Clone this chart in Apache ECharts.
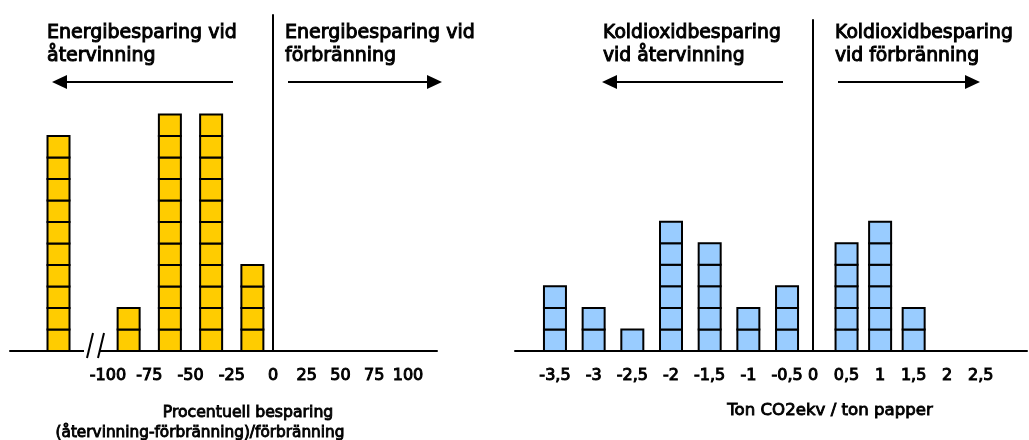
<!DOCTYPE html>
<html>
<head>
<meta charset="utf-8">
<script src="https://cdn.jsdelivr.net/npm/echarts@6/dist/echarts.min.js"></script>
<style>
html,body{margin:0;padding:0;background:#fff;}
#c{width:1029px;height:440px;}
</style>
</head>
<body>
<div id="c"></div>
<script>
// ---- data ----
const energyBins = [-130, -87.5, -62.5, -37.5, -12.5];
const energyCounts = [10, 2, 11, 11, 4];
const energyTicksNeg = [-100, -75, -50, -25, 0];
const energyTicksPos = [25, 50, 75, 100];

const co2BinsNeg = [-3.5, -3, -2.5, -2, -1.5, -1, -0.5];
const co2CountsNeg = [3, 2, 1, 6, 5, 2, 3];
const co2BinsPos = [0.5, 1, 1.5];
const co2CountsPos = [5, 6, 2];
const co2TicksNeg = [-3.5, -3, -2.5, -2, -1.5, -1, -0.5];
const co2TicksPos = [0, 0.5, 1, 1.5, 2, 2.5];

const FONT = '"DejaVu Sans", Verdana, sans-serif';
const YELLOW = '#FFCC00';
const BLUE = '#99CCFF';

function zip(a, b) { return a.map((v, i) => [v, b[i]]); }

function unitRenderer(color) {
  return function (params, api) {
    const x = api.value(0), n = api.value(1);
    const children = [];
    for (let k = 0; k < n; k++) {
      const p0 = api.coord([x, k]);
      const p1 = api.coord([x, k + 1]);
      children.push({
        type: 'rect',
        shape: { x: p0[0] - 11, y: p1[1], width: 22, height: p0[1] - p1[1] },
        style: { fill: color, stroke: '#000', lineWidth: 2 }
      });
    }
    return { type: 'group', children };
  };
}

function xAxis(gridIndex, min, max, ticks, fmt) {
  return {
    type: 'value', gridIndex, min, max,
    axisLine: { show: true, onZero: false, lineStyle: { color: '#000', width: 2 } },
    axisTick: { show: false },
    splitLine: { show: false },
    axisLabel: {
      show: true, customValues: ticks, margin: 17,
      fontFamily: FONT, fontWeight: 'normal', fontSize: 16, color: '#000',
      textBorderColor: '#000', textBorderWidth: 1,
      formatter: fmt || (v => String(v))
    }
  };
}
function yAxis(gridIndex, max, showLine) {
  return {
    type: 'value', gridIndex, min: 0, max,
    axisLine: { show: showLine, onZero: false, lineStyle: { color: '#000', width: 2 } },
    axisTick: { show: false }, axisLabel: { show: false }, splitLine: { show: false }
  };
}
const commaFmt = v => String(v).replace('.', ',');

const chart = echarts.init(document.getElementById('c'), null, { renderer: 'canvas' });

const txt = (x, y, text, size, border, align, extra) => Object.assign({
  type: 'text', x, y, z: 100,
  style: { text, fontFamily: FONT, fontSize: size, fontWeight: 'normal', fill: '#000',
           stroke: border ? '#000' : 'transparent', lineWidth: border || 0,
           align: align || 'left', verticalAlign: 'middle' }
}, extra || {});
const arrowLine = (x1, x2, y) => ({
  type: 'line', z: 100, shape: { x1, y1: y, x2, y2: y }, style: { stroke: '#000', lineWidth: 2 }
});
const head = (tip, dir, y) => ({
  type: 'polygon', z: 100,
  shape: { points: [[tip, y], [tip - dir * 15, y - 7], [tip - dir * 15, y + 7]] },
  style: { fill: '#000' }
});

chart.setOption({
  animation: false,
  backgroundColor: '#fff',
  grid: [
    { left: 10, width: 263, top: 15, bottom: 89 },
    { left: 273, width: 164, top: 15, bottom: 89 },
    { left: 515, width: 298, top: 20, bottom: 89 },
    { left: 813, width: 214, top: 20, bottom: 89 }
  ],
  xAxis: [
    xAxis(0, -159.4, 0, energyTicksNeg),
    xAxis(1, 0, 121.5, energyTicksPos),
    xAxis(2, -4.0166, -0.1644, co2TicksNeg, commaFmt),
    xAxis(3, 0, 3.189, co2TicksPos, commaFmt)
  ],
  yAxis: [
    yAxis(0, 15.63, false),
    yAxis(1, 15.63, true),
    yAxis(2, 15.36, false),
    yAxis(3, 15.36, true)
  ],
  series: [
    { type: 'custom', xAxisIndex: 0, yAxisIndex: 0, renderItem: unitRenderer(YELLOW),
      data: zip(energyBins, energyCounts) },
    { type: 'custom', xAxisIndex: 2, yAxisIndex: 2, renderItem: unitRenderer(BLUE),
      data: zip(co2BinsNeg, co2CountsNeg) },
    { type: 'custom', xAxisIndex: 3, yAxisIndex: 3, renderItem: unitRenderer(BLUE),
      data: zip(co2BinsPos, co2CountsPos) }
  ],
  graphic: [
    // left panel headings
    txt(47, 33, 'Energibesparing vid', 19, 1),
    txt(47, 56, 'återvinning', 19, 1),
    txt(285, 33, 'Energibesparing vid', 19, 1),
    txt(285, 56, 'förbränning', 19, 1),
    arrowLine(64, 233, 82), head(52, -1, 82),
    arrowLine(288, 430, 82), head(442, 1, 82),
    // right panel headings
    txt(603, 33, 'Koldioxidbesparing', 18.8, 1),
    txt(603, 56, 'vid återvinning', 18.8, 1),
    txt(835, 33, 'Koldioxidbesparing', 18.8, 1),
    txt(835, 56, 'vid förbränning', 18.8, 1),
    arrowLine(614, 783, 82), head(602, -1, 82),
    arrowLine(838, 968, 82), head(980, 1, 82),
    // y axis titles
    txt(291, 180, 'Antal scenarier', 18, 0, 'center', { rotation: Math.PI / 2, originX: 291, originY: 180 }),
    txt(790, 180, 'Antal scenarier', 18, 0, 'center', { rotation: Math.PI / 2, originX: 790, originY: 180 }),
    // x axis titles
    txt(248, 413, 'Procentuell besparing', 15.7, 0.9, 'center'),
    txt(200, 433, '(återvinning-förbränning)/förbränning', 15.3, 0.9, 'center'),
    txt(830, 411, 'Ton CO2ekv / ton papper', 16.6, 0.9, 'center'),
    // axis break
    { type: 'rect', z: 99, shape: { x: 84, y: 346, width: 15, height: 10 }, style: { fill: '#fff' } },
    { type: 'line', z: 100, shape: { x1: 87, y1: 358, x2: 93, y2: 333 }, style: { stroke: '#000', lineWidth: 2 } },
    { type: 'line', z: 100, shape: { x1: 98, y1: 358, x2: 104, y2: 333 }, style: { stroke: '#000', lineWidth: 2 } }
  ]
});
</script>
</body>
</html>
